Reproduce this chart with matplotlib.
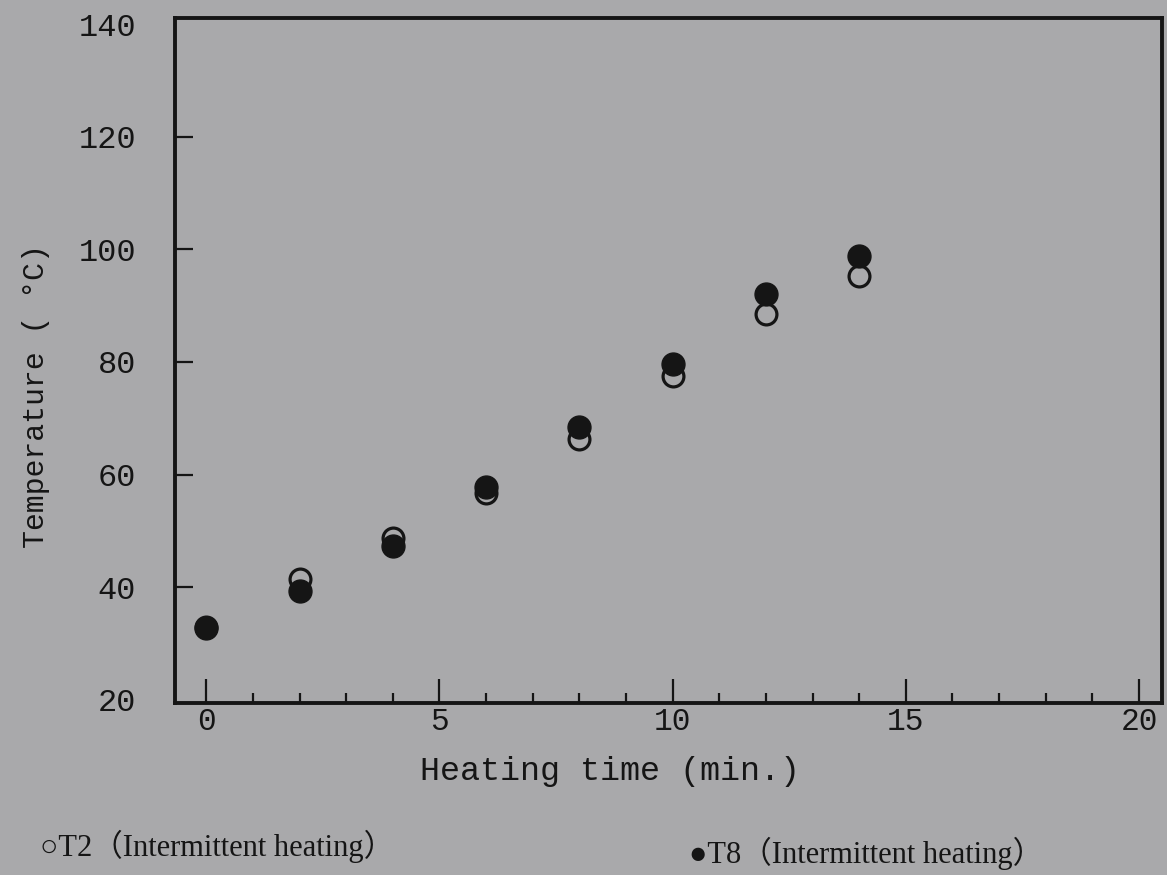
import matplotlib
matplotlib.use("Agg")
import matplotlib.pyplot as plt
from matplotlib.ticker import MultipleLocator, FixedLocator

# Data
time_min = [0, 2, 4, 6, 8, 10, 12, 14]
t2_intermittent = [33.0, 41.5, 48.8, 56.7, 66.3, 77.5, 88.5, 95.3]   # open circles
t8_intermittent = [32.8, 39.4, 47.3, 57.7, 68.4, 79.6, 92.0, 98.8]   # filled circles
x_ticks = [0, 5, 10, 15, 20]
y_ticks = [20, 40, 60, 80, 100, 120, 140]

bg = "#a9a9ab"
ink = "#151515"
mono = "Liberation Mono"

fig = plt.figure(figsize=(11.67, 8.75), dpi=100, facecolor=bg)
ax = fig.add_axes([0.150, 0.197, 0.846, 0.782])
ax.set_facecolor(bg)

ax.plot(time_min, t2_intermittent, linestyle="none", marker="o", ms=15,
        mfc="none", mec=ink, mew=2.3, zorder=3, clip_on=False)
ax.plot(time_min, t8_intermittent, linestyle="none", marker="o", ms=16.5,
        mfc=ink, mec=ink, mew=1, zorder=4, clip_on=False)

ax.set_xlim(-0.67, 20.5)
ax.set_ylim(19.5, 141)

for s in ["left", "bottom", "top", "right"]:
    ax.spines[s].set_linewidth(2.8)
    ax.spines[s].set_color(ink)

ax.xaxis.set_major_locator(FixedLocator(x_ticks))
ax.xaxis.set_minor_locator(MultipleLocator(1))
ax.yaxis.set_major_locator(FixedLocator(y_ticks))

ax.tick_params(axis="x", which="major", direction="in", length=17, width=1.6,
               color=ink, pad=3, labelsize=22.5, labelcolor=ink)
ax.tick_params(axis="x", which="minor", direction="in", length=7.5, width=1.6,
               color=ink)
ax.tick_params(axis="y", which="major", direction="in", length=13, width=1.6,
               color=ink, pad=28, labelsize=23, labelcolor=ink)
for lab in ax.get_xticklabels() + ax.get_yticklabels():
    lab.set_fontfamily(mono)
yt = ax.yaxis.get_major_ticks()
for t in (yt[0], yt[-1]):
    t.tick1line.set_visible(False)

ax.set_xlabel("Heating time (min.)", fontsize=24, family=mono, color=ink)
ax.xaxis.set_label_coords(0.441, -0.078)
ax.set_ylabel("Temperature ( °C)", fontsize=21.5, family=mono, color=ink)
ax.yaxis.set_label_coords(-0.127, 0.448)

legend_family = ["Liberation Serif", "DejaVu Sans", "Noto Sans CJK TC"]
fig.text(0.034, 0.014, "○T2（Intermittent heating）", fontsize=22,
         family=legend_family, color=ink, ha="left", va="bottom")
fig.text(0.590, 0.006, "●T8（Intermittent heating）", fontsize=22,
         family=legend_family, color=ink, ha="left", va="bottom")

fig.savefig("out.png", dpi=100, facecolor=bg)
